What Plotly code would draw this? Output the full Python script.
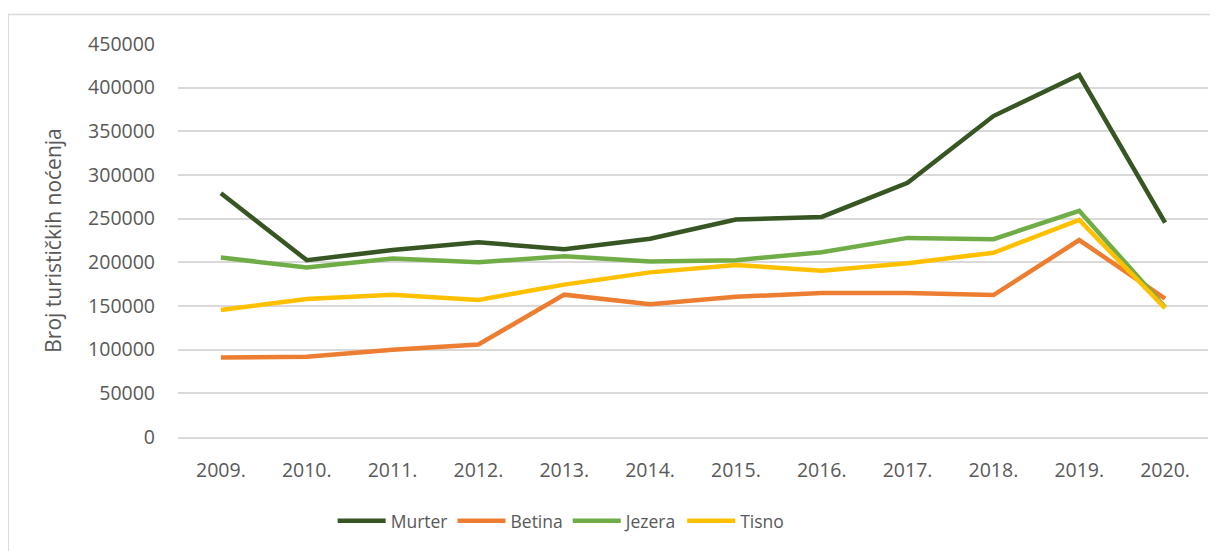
import plotly.graph_objects as go

years = ["2009.", "2010.", "2011.", "2012.", "2013.", "2014.", "2015.", "2016.", "2017.", "2018.", "2019.", "2020."]
murter = [279000, 202500, 214000, 223000, 215000, 227000, 249000, 252000, 291000, 367500, 414500, 245500]
betina = [91000, 92000, 100000, 106000, 163000, 152000, 160500, 165000, 165000, 162500, 225500, 158500]
jezera = [205500, 194000, 204500, 200000, 207000, 201000, 202500, 211500, 228000, 226500, 259000, 148500]
tisno = [145500, 158000, 163000, 157000, 174500, 188500, 197000, 190500, 199000, 211000, 248500, 147500]
y_ticks = [0, 50000, 100000, 150000, 200000, 250000, 300000, 350000, 400000, 450000]

series = [("Murter", murter, "#375623"), ("Betina", betina, "#ED7D31"),
          ("Jezera", jezera, "#70AD47"), ("Tisno", tisno, "#FFC000")]

fig = go.Figure()
for name, vals, col in series:
    fig.add_trace(go.Scatter(x=years, y=vals, name=name, mode="lines",
                             line=dict(color=col, width=4.5)))

fig.update_layout(
    width=1210, height=543,
    margin=dict(l=170, r=10, t=36, b=114),
    plot_bgcolor="white", paper_bgcolor="white",
    font=dict(family="Open Sans, Liberation Sans, sans-serif", size=19, color="#595959"),
    showlegend=True,
    legend=dict(orientation="h", x=0.372, xanchor="center", y=-0.2137, yanchor="middle",
                font=dict(size=17.5, color="#595959"), itemwidth=48, traceorder="normal"),
    xaxis=dict(type="category", range=[-0.5, 11.5], showgrid=False, showline=True,
               linecolor="#D9D9D9", linewidth=1.5,
               ticks="", tickfont=dict(size=19.5, color="#595959"), ticklabelstandoff=15),
    yaxis=dict(range=[0, 450000], tickvals=y_ticks, ticktext=[str(v) for v in y_ticks],
               showgrid=True, gridcolor="#D9D9D9", gridwidth=1.5, zeroline=False,
               showline=False, ticks="", ticklabelstandoff=22,
               tickfont=dict(size=19.5, color="#595959"),
               title=dict(text="Broj turističkih noćenja", font=dict(size=21, color="#595959"), standoff=20)),
)
fig.add_shape(type="rect", xref="paper", yref="paper", x0=-0.1649, x1=1.05, y0=-0.35, y1=1.0751,
              line=dict(color="#D9D9D9", width=1.5), fillcolor="rgba(0,0,0,0)", layer="below")
fig.write_html("out.html")
